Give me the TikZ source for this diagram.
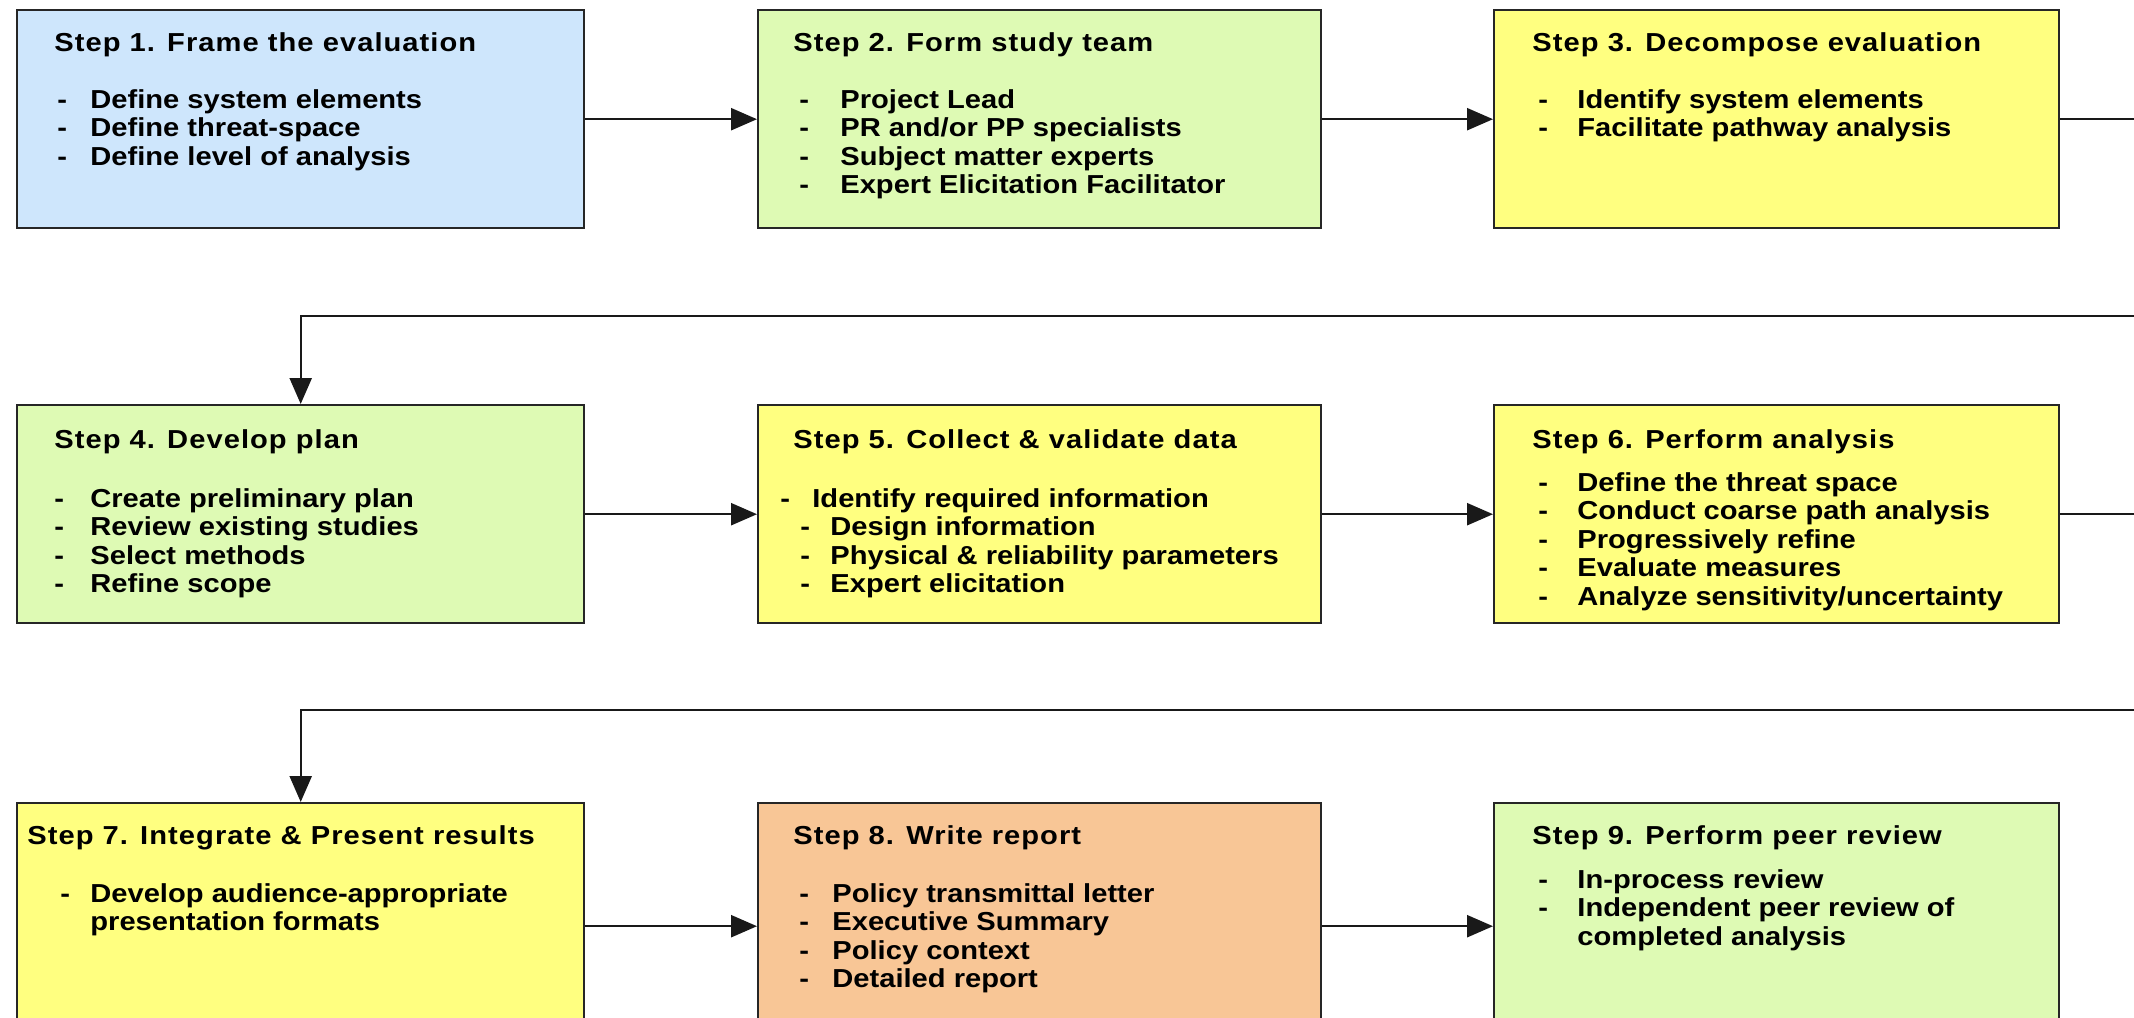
\documentclass[tikz,border=0pt]{standalone}
\usepackage{fontspec}
\setmainfont{Liberation Sans}[FakeStretch=1.12]
\newfontfamily\titlefont{Liberation Sans}[FakeStretch=1.12,LetterSpace=4]
\usetikzlibrary{arrows.meta}
\definecolor{bxblue}{RGB}{206,230,252}
\definecolor{bxgreen}{RGB}{222,250,180}
\definecolor{bxyellow}{RGB}{255,255,128}
\definecolor{bxorange}{RGB}{248,198,150}
\newcommand{\dl}[2]{\makebox[#1][l]{-}#2}
\tikzset{
  stepbox/.style={draw=black!85, line width=1.2pt, rectangle, inner sep=0pt, anchor=north west},
  rowone/.style={minimum height=109pt},
  rowtwo/.style={minimum height=109pt},
  rowthree/.style={minimum height=123pt},
  colA/.style={minimum width=283.5pt},
  colB/.style={minimum width=281.5pt},
  colC/.style={minimum width=282.5pt},
  ttl/.style={anchor=base west, inner sep=0pt, font=\titlefont\bfseries\fontsize{13}{14.3}\selectfont},
  lst/.style={anchor=base west, inner sep=0pt, font=\bfseries\fontsize{13}{14.3}\selectfont},
  conn/.style={line width=1.2pt, draw=black!90, -{Triangle[length=13pt,width=11pt]}},
}
\begin{document}
\begin{tikzpicture}[x=0.5pt,y=-0.5pt]
\useasboundingbox (0,0) rectangle (2134,1017);
\clip (0,0) rectangle (2134,1017);
\fill[white] (0,0) rectangle (2134,1017);

% boxes
\node[stepbox,rowone,colA,fill=bxblue]   (b1) at (16,9) {};
\node[stepbox,rowone,colB,fill=bxgreen]  (b2) at (757,9) {};
\node[stepbox,rowone,colC,fill=bxyellow] (b3) at (1493,9) {};
\node[stepbox,rowtwo,colA,fill=bxgreen]  (b4) at (16,404) {};
\node[stepbox,rowtwo,colB,fill=bxyellow] (b5) at (757,404) {};
\node[stepbox,rowtwo,colC,fill=bxyellow] (b6) at (1493,404) {};
\node[stepbox,rowthree,colA,fill=bxyellow] (b7) at (16,802) {};
\node[stepbox,rowthree,colB,fill=bxorange] (b8) at (757,802) {};
\node[stepbox,rowthree,colC,fill=bxgreen]  (b9) at (1493,802) {};

% titles
\node[ttl] (t1) at ([shift={(38,42)}]b1.north west) {Step 1. Frame the evaluation};
\node[ttl] (t2) at ([shift={(36,42)}]b2.north west) {Step 2. Form study team};
\node[ttl] (t3) at ([shift={(39,42)}]b3.north west) {Step 3. Decompose evaluation};
\node[ttl] (t4) at ([shift={(38,44)}]b4.north west) {Step 4. Develop plan};
\node[ttl] (t5) at ([shift={(36,44)}]b5.north west) {Step 5. Collect \& validate data};
\node[ttl] (t6) at ([shift={(39,44)}]b6.north west) {Step 6. Perform analysis};
\node[ttl] (t7) at ([shift={(11,42)}]b7.north west) {Step 7. Integrate \& Present results};
\node[ttl] (t8) at ([shift={(36,42)}]b8.north west) {Step 8. Write report};
\node[ttl] (t9) at ([shift={(39,42)}]b9.north west) {Step 9. Perform peer review};

% lists
\node[lst] (l1) at ([shift={(41,99)}]b1.north west) {\parbox[t]{260pt}{%
\dl{16.5pt}{Define system elements}\\
\dl{16.5pt}{Define threat-space}\\
\dl{16.5pt}{Define level of analysis}}};
\node[lst] (l2) at ([shift={(42,99)}]b2.north west) {\parbox[t]{260pt}{%
\dl{20.5pt}{Project Lead}\\
\dl{20.5pt}{PR and/or PP specialists}\\
\dl{20.5pt}{Subject matter experts}\\
\dl{20.5pt}{Expert Elicitation Facilitator}}};
\node[lst] (l3) at ([shift={(45,99)}]b3.north west) {\parbox[t]{260pt}{%
\dl{19.5pt}{Identify system elements}\\
\dl{19.5pt}{Facilitate pathway analysis}}};
\node[lst] (l4) at ([shift={(38,103)}]b4.north west) {\parbox[t]{260pt}{%
\dl{18pt}{Create preliminary plan}\\
\dl{18pt}{Review existing studies}\\
\dl{18pt}{Select methods}\\
\dl{18pt}{Refine scope}}};
\node[lst] (l5) at ([shift={(23,103)}]b5.north west) {\parbox[t]{270pt}{%
\dl{16pt}{Identify required information}\\
\hspace*{10pt}\dl{15pt}{Design information}\\
\hspace*{10pt}\dl{15pt}{Physical \& reliability parameters}\\
\hspace*{10pt}\dl{15pt}{Expert elicitation}}};
\node[lst] (l6) at ([shift={(45,87)}]b6.north west) {\parbox[t]{260pt}{%
\dl{19.5pt}{Define the threat space}\\
\dl{19.5pt}{Conduct coarse path analysis}\\
\dl{19.5pt}{Progressively refine}\\
\dl{19.5pt}{Evaluate measures}\\
\dl{19.5pt}{Analyze sensitivity/uncertainty}}};
\node[lst] (l7) at ([shift={(44,100)}]b7.north west) {\parbox[t]{260pt}{%
\dl{15pt}{Develop audience-appropriate}\\
\hspace*{15pt}presentation formats}};
\node[lst] (l8) at ([shift={(42,100)}]b8.north west) {\parbox[t]{260pt}{%
\dl{16.5pt}{Policy transmittal letter}\\
\dl{16.5pt}{Executive Summary}\\
\dl{16.5pt}{Policy context}\\
\dl{16.5pt}{Detailed report}}};
\node[lst] (l9) at ([shift={(45,86)}]b9.north west) {\parbox[t]{260pt}{%
\dl{19.5pt}{In-process review}\\
\dl{19.5pt}{Independent peer review of}\\
\hspace*{19.5pt}completed analysis}};

% connectors
\coordinate (k1) at (2200,316);
\coordinate (k2) at (2200,710);
\draw[conn] (b1) -- (b2);
\draw[conn] (b2) -- (b3);
\draw[conn] (b3.east) -| (k1) -| (b4.north);
\draw[conn] (b4) -- (b5);
\draw[conn] (b5) -- (b6);
\draw[conn] (b6.east) -| (k2) -| (b7.north);
\draw[conn] (b7) -- (b8);
\draw[conn] (b8) -- (b9);
\end{tikzpicture}
\end{document}
